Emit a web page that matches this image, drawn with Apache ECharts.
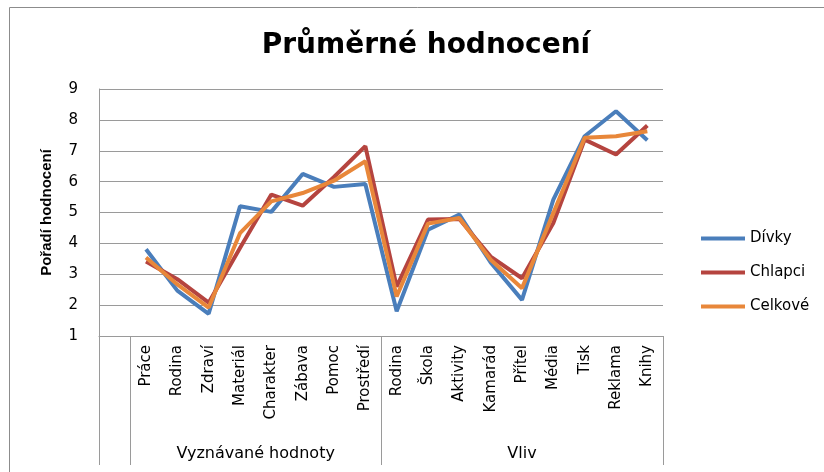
<!DOCTYPE html>
<html>
<head>
<meta charset="utf-8">
<script src="https://cdn.jsdelivr.net/npm/echarts@6/dist/echarts.min.js"></script>
<style>
  html, body { margin: 0; padding: 0; background: #fff; }
  #chart { width: 824px; height: 472px; }
</style>
</head>
<body>
<div id="chart"></div>
<script>
// kategorie (první je prázdná, jako v původní tabulce)
const categories = ['', 'Práce', 'Rodina', 'Zdraví', 'Materiál', 'Charakter', 'Zábava', 'Pomoc', 'Prostředí',
  'Rodina', 'Škola', 'Aktivity', 'Kamarád', 'Přítel', 'Média', 'Tisk', 'Reklama', 'Knihy'];
const divky = [null, 3.81, 2.47, 1.72, 5.2, 5.02, 6.25, 5.83, 5.92, 1.8, 4.44, 4.93, 3.38, 2.17, 5.42, 7.47, 8.28, 7.34];
const chlapci = [null, 3.41, 2.84, 2.08, 3.85, 5.58, 5.22, 6.15, 7.15, 2.6, 4.77, 4.79, 3.57, 2.87, 4.66, 7.36, 6.88, 7.82];
const celkove = [null, 3.54, 2.67, 1.92, 4.33, 5.36, 5.63, 6.03, 6.66, 2.28, 4.64, 4.82, 3.47, 2.55, 4.98, 7.42, 7.47, 7.63];
const yTicks = [1, 2, 3, 4, 5, 6, 7, 8, 9];
// skupiny kategorií: hranice (v indexech kategorií) a názvy
const groupBounds = [0, 1, 9, 18];
const groupNames = ['Vyznávané hodnoty', 'Vliv'];
const groupCenters = [5, 13.5];

const font = 'DejaVu Sans';
const gridColor = '#9a9a9a';

const chart = echarts.init(document.getElementById('chart'));

const option = {
  animation: false,
  textStyle: { fontFamily: font, color: '#000' },
  title: {
    text: 'Průměrné hodnocení',
    left: 421,
    top: 27,
    textAlign: 'center',
    textStyle: { fontFamily: font, fontSize: 28, fontWeight: 'bold', color: '#000' },
  },
  legend: {
    orient: 'vertical',
    left: 696,
    top: 226,
    itemWidth: 44,
    itemHeight: 4,
    itemGap: 19,
    icon: 'rect',
    textStyle: { fontFamily: font, fontSize: 15, color: '#000' },
    data: ['Dívky', 'Chlapci', 'Celkové'],
  },
  grid: { left: 99, right: 161, top: 89, bottom: 136 },
  graphic: [
    {
      type: 'rect',
      shape: { x: 9.5, y: 7.5, width: 900, height: 600 },
      style: { fill: 'none', stroke: '#8c8c8c', lineWidth: 1 },
      silent: true,
    },
  ],
  xAxis: [
    {
      type: 'category',
      data: categories,
      boundaryGap: true,
      axisLine: { show: true, lineStyle: { color: gridColor } },
      axisTick: { show: false },
      axisLabel: {
        interval: 0,
        rotate: 90,
        margin: 9,
        fontSize: 15,
        color: '#000',
        fontFamily: font,
      },
    },
    {
      type: 'value',
      position: 'bottom',
      min: 0,
      max: 18,
      axisLine: { show: false },
      splitLine: { show: false },
      axisTick: {
        show: true,
        customValues: groupBounds,
        length: 129,
        lineStyle: { color: gridColor },
      },
      axisLabel: {
        show: true,
        customValues: groupCenters,
        margin: 110,
        fontSize: 16,
        color: '#000',
        fontFamily: font,
        formatter: (v) => groupNames[groupCenters.indexOf(v)],
      },
    },
  ],
  yAxis: {
    type: 'value',
    min: yTicks[0],
    max: yTicks[yTicks.length - 1],
    interval: 1,
    name: 'Pořadí hodnocení',
    nameLocation: 'middle',
    nameGap: 45,
    nameRotate: 90,
    nameTextStyle: { fontFamily: 'Liberation Sans', fontSize: 15, fontWeight: 'bold', color: '#000' },
    axisLine: { show: true, lineStyle: { color: gridColor } },
    axisTick: { show: false },
    axisLabel: { fontSize: 15, color: '#000', margin: 21, fontFamily: font },
    splitLine: { show: true, lineStyle: { color: gridColor, width: 1 } },
  },
  series: [
    {
      name: 'Dívky',
      type: 'line',
      data: divky,
      symbol: 'none',
      color: '#4a7ebb',
      lineStyle: { width: 4 },
    },
    {
      name: 'Chlapci',
      type: 'line',
      data: chlapci,
      symbol: 'none',
      color: '#b5443f',
      lineStyle: { width: 4 },
    },
    {
      name: 'Celkové',
      type: 'line',
      data: celkove,
      symbol: 'none',
      color: '#e8873a',
      lineStyle: { width: 4 },
    },
  ],
};

chart.setOption(option);
</script>
</body>
</html>
